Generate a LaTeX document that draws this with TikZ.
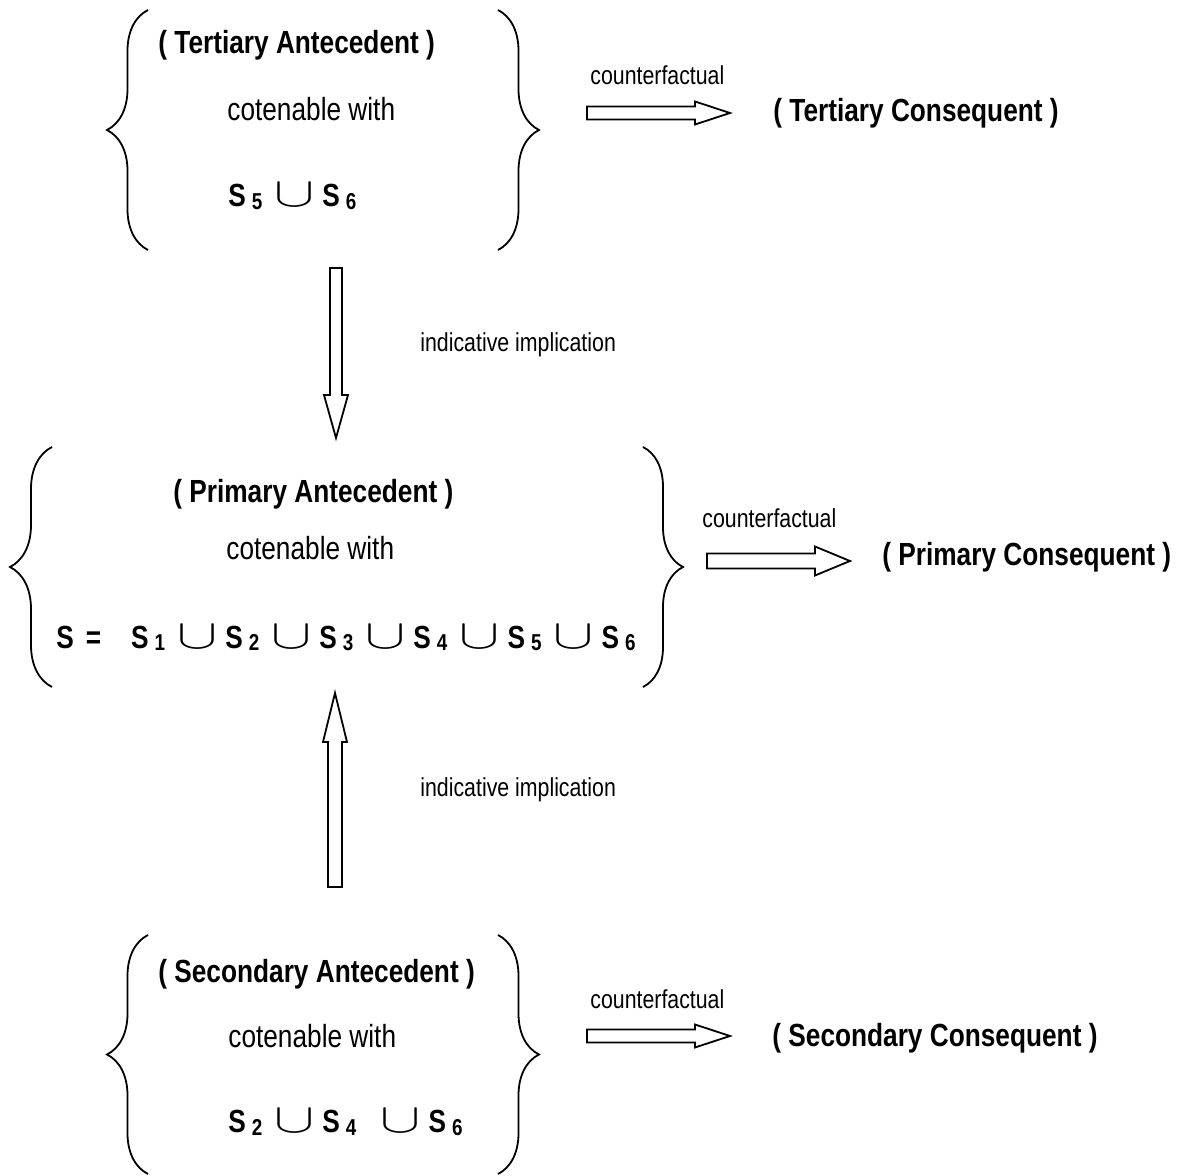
\documentclass[tikz,border=0pt]{standalone}
\usepackage{graphicx}
\usepackage{fontspec}
\setmainfont{Liberation Sans}[FakeStretch=0.82]
\usetikzlibrary{positioning,calc,decorations.pathreplacing}

% set with index, and the union sign
\newcommand{\sset}[1]{\textbf{S}\hspace{3pt}\raisebox{-1.5pt}{\fontsize{11.5}{12}\selectfont\bfseries #1}}
\newcommand{\unionsym}{\hspace{6pt}\scalebox{1.45}[1]{\fontsize{20.5}{21}\selectfont$\cup$}\hspace{4pt}}

\tikzset{
  txt/.style    ={anchor=base west, inner sep=0pt, font=\fontsize{16}{19}\selectfont},
  heading/.style={txt, font=\fontsize{16}{19}\selectfont\bfseries},
  lbl/.style    ={anchor=base west, inner sep=0pt, font=\fontsize{13}{15}\selectfont},
  curly/.style  ={decorate, decoration={brace, amplitude=20.5pt}, line width=0.9pt},
  hollow/.style ={line width=0.9pt, line join=miter, fill=white},
}

% hollow block arrow: #1 start, #2 tip, #3 shaft half width, #4 head half width, #5 head length
\newcommand{\blockarrow}[5]{%
  \coordinate (#2-b) at ($(#2)!#5!(#1)$);
  \draw[hollow] ($(#1)!#3!90:(#2)$) -- ($(#2-b)!#3!90:(#2)$) -- ($(#2-b)!#4!90:(#2)$) -- (#2)
    -- ($(#2-b)!#4!-90:(#2)$) -- ($(#2-b)!#3!-90:(#2)$) -- ($(#1)!#3!-90:(#2)$) -- cycle;}

\begin{document}
\begin{tikzpicture}[x=0.5pt, y=-0.5pt]
  \useasboundingbox (0,0) rectangle (1179,1176);

  % tertiary antecedent
  \node[heading] (tant) at (158,54) {( Tertiary Antecedent )};
  \node[txt] (tcot) at (227,121) {cotenable with};
  \node[txt] (tset) at (228,207) {\sset{5}\unionsym\sset{6}};
  \draw[curly] (148,250) -- (148,10);
  \draw[curly] (498,10) -- (498,250);
  \node[lbl] (tcf) at (590,85) {counterfactual};
  \node[heading] (tcons) at (773,122) {( Tertiary Consequent )};
  \coordinate (tcfs) at (587,113);
  \coordinate (tcfe) at (730,113);
  \blockarrow{tcfs}{tcfe}{3.25pt}{5.75pt}{17.5pt}

  % tertiary => primary
  \coordinate (ds) at (336,268);
  \coordinate (de) at (336,438);
  \blockarrow{ds}{de}{3pt}{6pt}{21.5pt}
  \node[lbl] (dlbl) at (420,352) {indicative implication};

  % primary antecedent
  \node[heading] (pant) at (173,503) {( Primary Antecedent )};
  \node[txt] (pcot) at (226,560) {cotenable with};
  \node[txt] (pset) at (56,648) {\textbf{S}\hspace{6pt}\textbf{=}\hspace{15pt}\sset{1}\unionsym\sset{2}\unionsym\sset{3}\unionsym\sset{4}\unionsym\sset{5}\unionsym\sset{6}};
  \draw[curly, decoration={amplitude=21pt}] (52,687) -- (52,447);
  \draw[curly, decoration={amplitude=20pt}] (643,447) -- (643,687);
  \node[lbl] (pcf) at (702,528) {counterfactual};
  \node[heading] (pcons) at (882,566) {( Primary Consequent )};
  \coordinate (pcfs) at (707,561);
  \coordinate (pcfe) at (850,561);
  \blockarrow{pcfs}{pcfe}{3.75pt}{7.25pt}{17.5pt}

  % secondary => primary
  \coordinate (us) at (335,887);
  \coordinate (ue) at (335,693);
  \blockarrow{us}{ue}{3.5pt}{6pt}{24.5pt}
  \node[lbl] (ulbl) at (420,796) {indicative implication};

  % secondary antecedent
  \node[heading] (sant) at (158,982) {( Secondary Antecedent )};
  \node[txt] (scot) at (228,1047) {cotenable with};
  \node[txt] (sset) at (228,1132) {\sset{2}\unionsym\sset{4}\hspace{6pt}\unionsym\sset{6}};
  \draw[curly] (148,1174) -- (148,935);
  \draw[curly] (498,935) -- (498,1174);
  \node[lbl] (scf) at (590,1008) {counterfactual};
  \node[heading] (scons) at (772,1046) {( Secondary Consequent )};
  \coordinate (scfs) at (587,1036);
  \coordinate (scfe) at (730,1036);
  \blockarrow{scfs}{scfe}{3.25pt}{5.75pt}{17.5pt}
\end{tikzpicture}
\end{document}
